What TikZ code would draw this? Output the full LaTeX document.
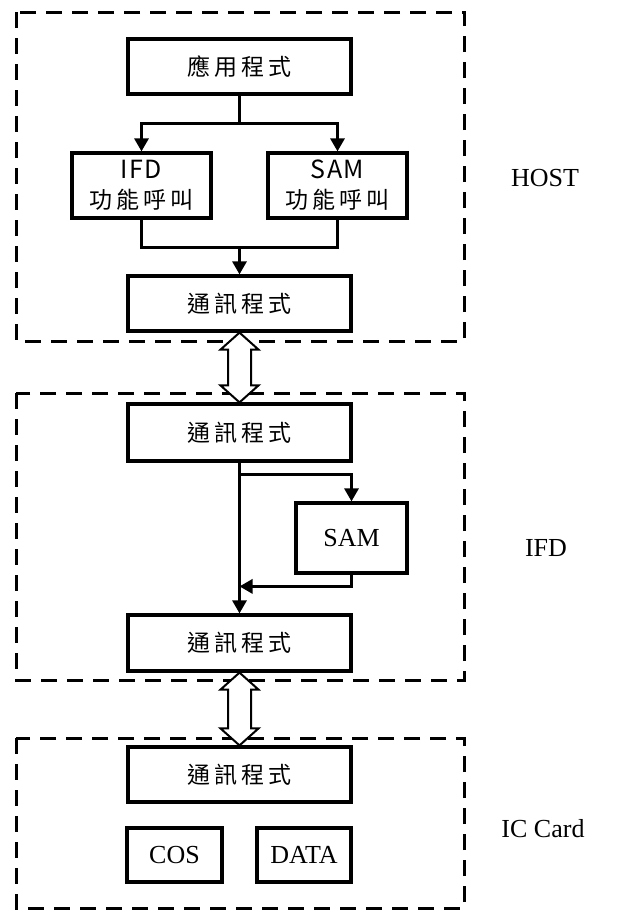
\documentclass[tikz,border=0pt]{standalone}
\usepackage{fontspec}
\setmainfont{Liberation Serif}
\newfontfamily\cjk{Noto Sans CJK TC}[LetterSpace=18]
\newfontfamily\cjklat{Noto Sans CJK TC}[LetterSpace=6]
\usetikzlibrary{arrows.meta,calc}

\begin{document}
\begin{tikzpicture}[x=1pt, y=1pt, line width=3.2pt,
	blk/.style = {draw, rectangle, inner sep=0pt, line width=3.2pt},
	cjkbox/.style = {blk, font=\cjk\fontsize{23}{30}\selectfont, align=center},
	txtbox/.style = {blk, font=\fontsize{26}{30}\selectfont},
	zone/.style = {draw, line width=3pt, dash pattern=on 16pt off 10pt},
	flow/.style = {-{Triangle[length=13pt,width=14pt]}, line width=3pt},
	hollow/.style = {draw, fill=white, line width=2pt, line join=miter},
	tag/.style = {font=\fontsize{26}{30}\selectfont}]

	\useasboundingbox (0,0) rectangle (621,-911);

	% dashed zones
	\draw[zone] (16,-12) rectangle (464,-341);
	\draw[zone] (16,-393) rectangle (464,-680);
	\draw[zone] (16,-738) rectangle (464,-908);

	\node[tag] (host) at (545,-178) {HOST};
	\node[tag] (ifd) at (546,-548) {IFD};
	\node[tag] (card) at (543,-829) {IC Card};

	% host
	\node[cjkbox, minimum width=223, minimum height=55] (app) at (239.5,-66.5) {應用程式};
	\node[cjkbox, minimum width=139, minimum height=65] (ifdcall) at (141.5,-185.5) {{\cjklat\fontsize{25}{30}\selectfont IFD}\\功能呼叫};
	\node[cjkbox, minimum width=139, minimum height=65] (samcall) at (337.5,-185.5) {{\cjklat\fontsize{25}{30}\selectfont SAM}\\功能呼叫};
	\node[cjkbox, minimum width=223, minimum height=55] (comm1) at (239.5,-303.5) {通訊程式};

	\draw[flow] (app.south) -- ++(0,-28) -| (ifdcall.north);
	\draw[flow] (app.south) -- ++(0,-28) -| (samcall.north);
	\draw (ifdcall.south) -- ++(0,-28) coordinate (mergeL) -| (samcall.south);
	\draw[flow] (mergeL -| comm1.north) -- (comm1.north);

	% ifd
	\node[cjkbox, minimum width=223, minimum height=57] (comm2) at (239.5,-432.5) {通訊程式};
	\node[txtbox, minimum width=111, minimum height=70] (sam) at (351.5,-538) {SAM};
	\node[cjkbox, minimum width=223, minimum height=56] (comm3) at (239.5,-643) {通訊程式};

	\draw[flow] (comm2.south) -- (comm3.north);
	\draw[flow] ($(comm2.south)+(0,-12)$) -| (sam.north);
	\draw[flow] (sam.south) |- ($(comm3.north)+(0,27)$);

	% card
	\node[cjkbox, minimum width=223, minimum height=55] (comm4) at (239.5,-774.5) {通訊程式};
	\node[txtbox, minimum width=95, minimum height=54] (cos) at (174.5,-855) {COS};
	\node[txtbox, minimum width=94, minimum height=54] (data) at (304,-855) {DATA};

	% links between zones
	\draw[hollow] (comm1.south) -- ++(-19,-17) -- ++(7.5,0) |- ($(comm2.north)+(-11.5,17)$)
		-- ++(-7.5,0) -- (comm2.north) -- ++(19,17) -- ++(-7.5,0)
		|- ($(comm1.south)+(11.5,-17)$) -- ++(7.5,0) -- cycle;
	\draw[hollow] (comm3.south) -- ++(-19,-17) -- ++(7.5,0) |- ($(comm4.north)+(-11.5,17)$)
		-- ++(-7.5,0) -- (comm4.north) -- ++(19,17) -- ++(-7.5,0)
		|- ($(comm3.south)+(11.5,-17)$) -- ++(7.5,0) -- cycle;

\end{tikzpicture}
\end{document}
